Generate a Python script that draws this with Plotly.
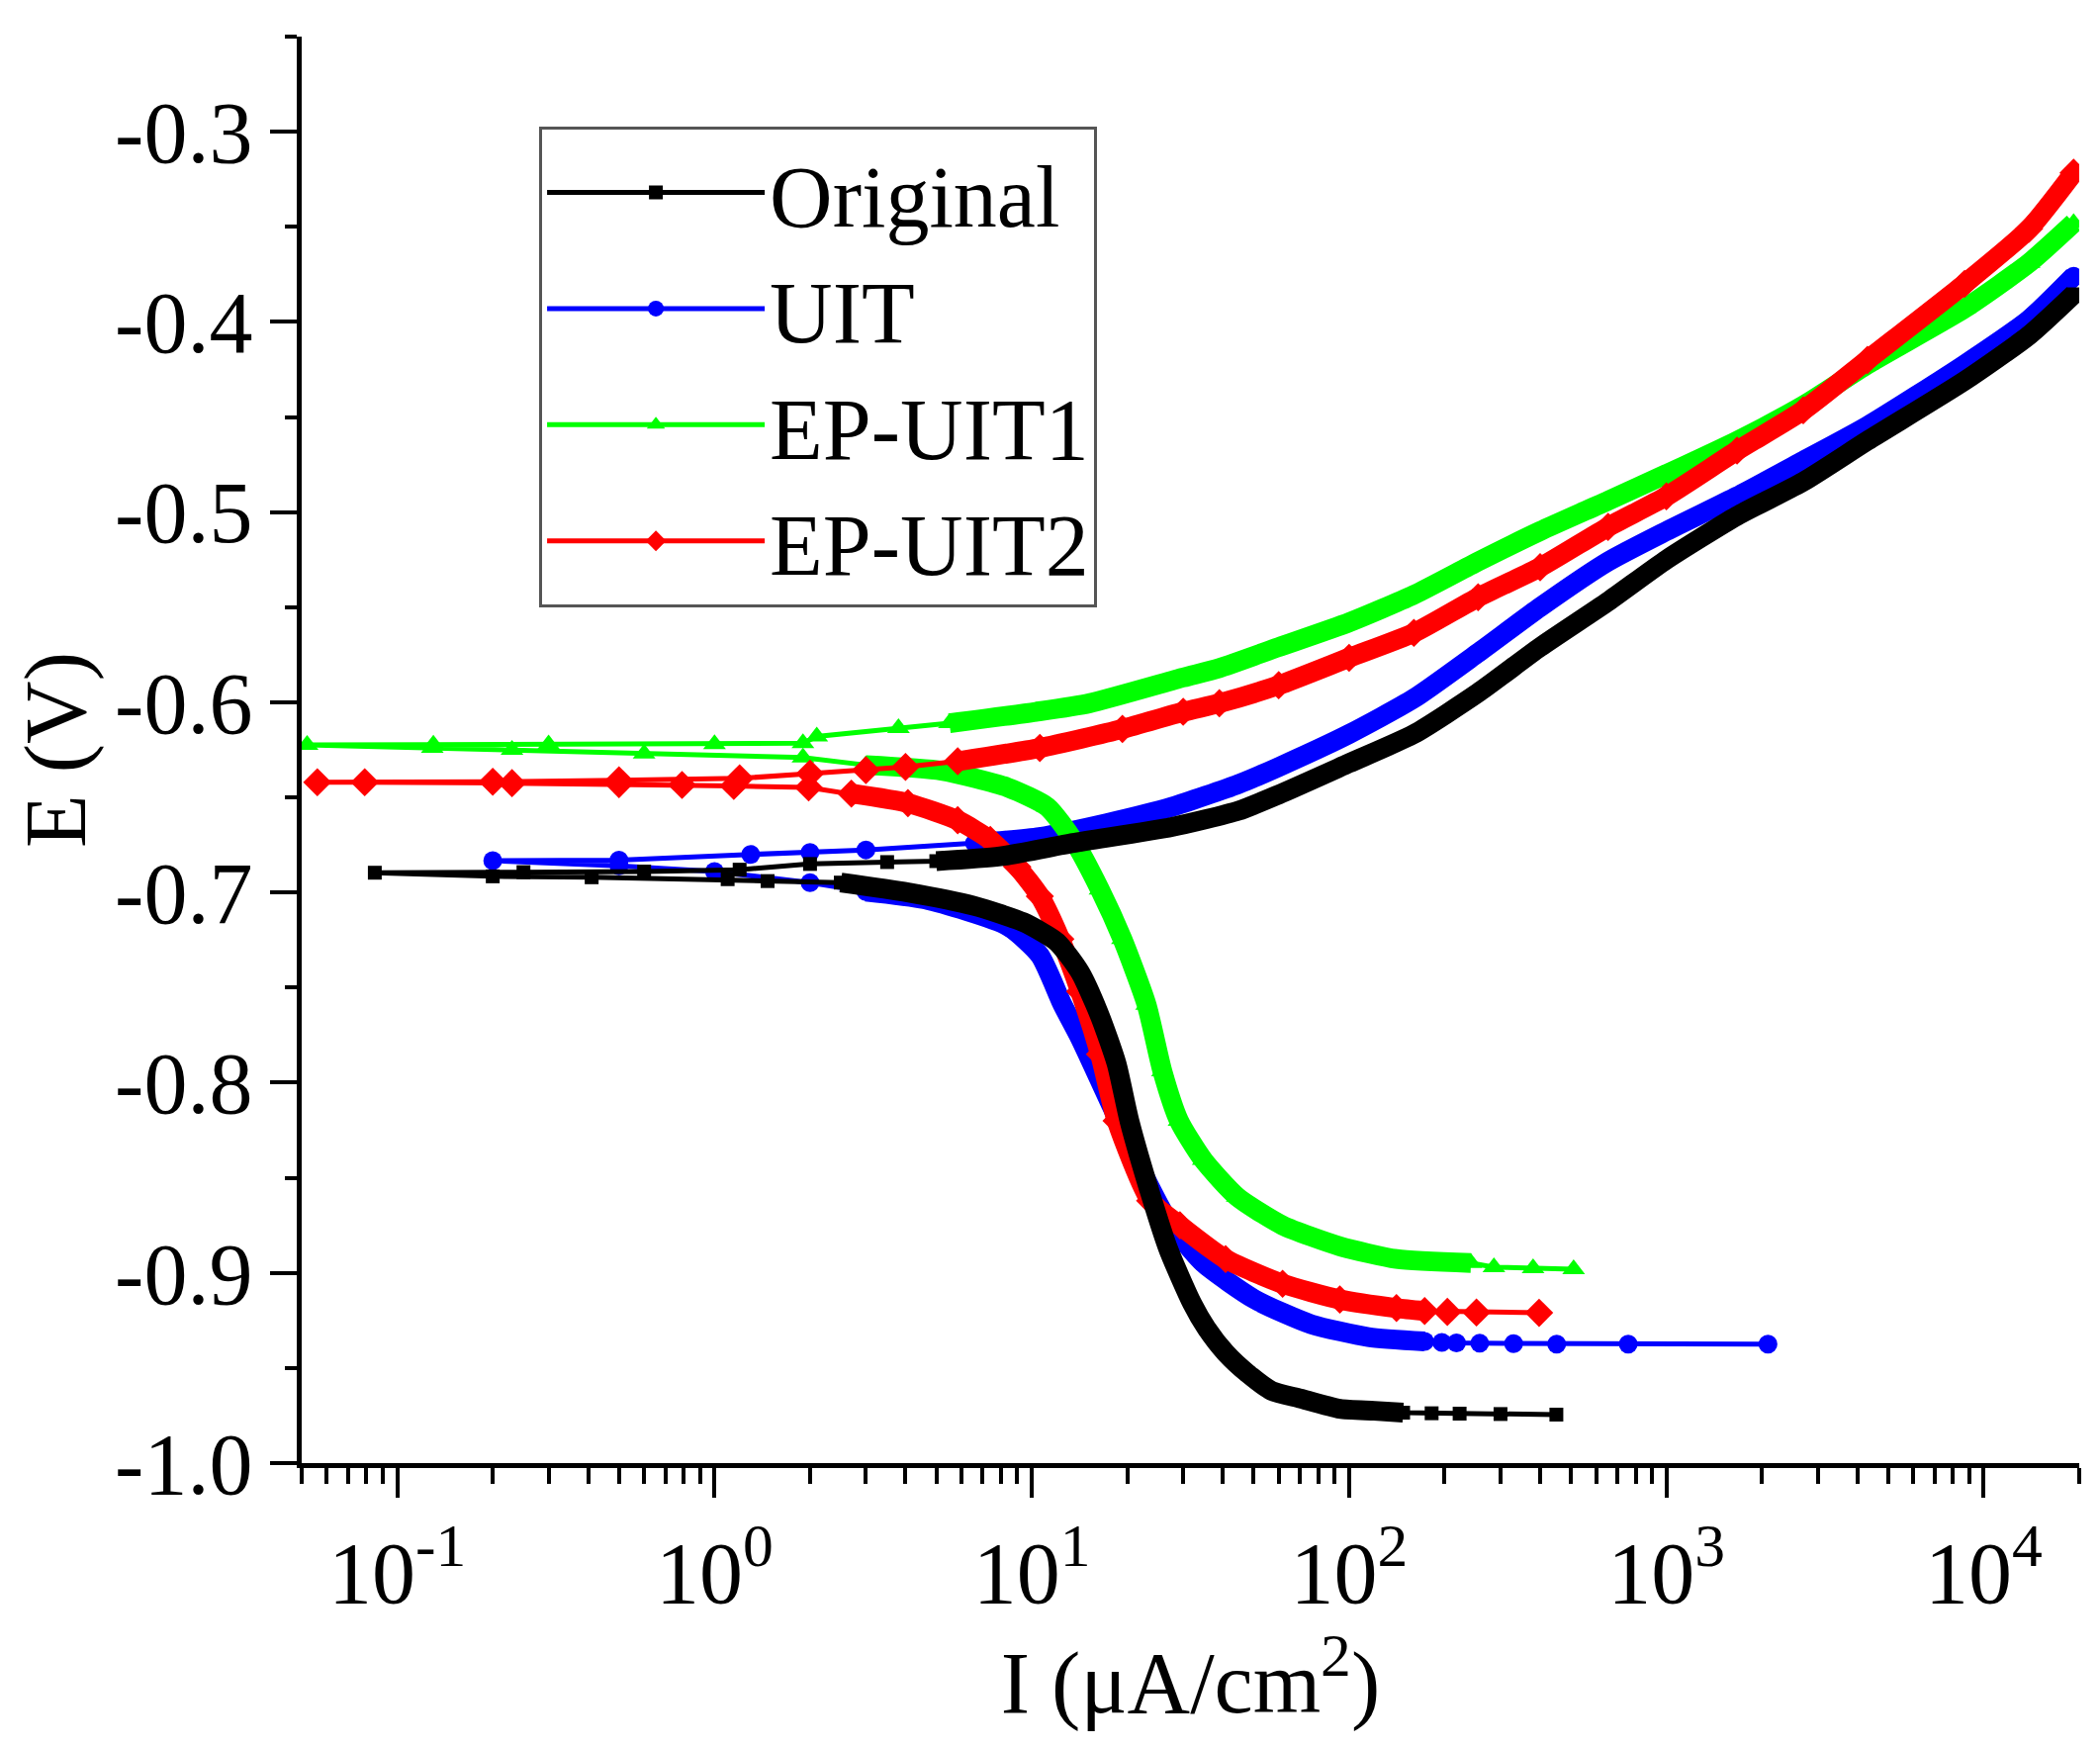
import plotly.graph_objects as go

# ---- data (I in uA/cm2, E in V) ----
# each curve: cathodic branch (sweep start -> Ecorr), then anodic branch (Ecorr -> end)

orig_cat_I = [450, 300, 223, 182, 148, 120, 93.5, 70, 57, 48, 40.8, 35.5, 32, 27, 23.8, 20.3, 18.5, 16.4,
              14.2, 12, 9.4, 6.56, 4.07, 2.5, 1.47, 1.1, 0.41, 0.2, 0.085]
orig_cat_E = [-0.9745, -0.9742, -0.974, -0.9738, -0.9735, -0.9725, -0.9715, -0.966, -0.962, -0.953, -0.942,
              -0.929, -0.916, -0.888, -0.860, -0.82, -0.79, -0.765, -0.742, -0.726, -0.7156, -0.707,
              -0.700, -0.6948, -0.694, -0.693, -0.692, -0.6915, -0.6896]
orig_an_I = [0.25, 0.6, 1.2, 2.0, 3.5, 5.0, 7.95, 13.5, 27.6, 44.8, 60, 100, 160, 255, 400, 655, 1000,
             1670, 2700, 4300, 8700, 13900, 19200]
orig_an_E = [-0.6893, -0.689, -0.688, -0.685, -0.684, -0.6835, -0.681, -0.674, -0.6656, -0.657, -0.6485,
             -0.632, -0.6167, -0.595, -0.571, -0.547, -0.525, -0.502, -0.484, -0.4625, -0.431, -0.407,
             -0.3855]

uit_cat_I = [2090, 758, 451, 330, 258, 218, 196, 173, 115, 76, 50.5, 34.7, 27, 22, 17.9, 14.2, 12.5,
             10.6, 8.4, 4.6, 3.0, 2.0, 1.0, 0.5, 0.2]
uit_cat_E = [-0.9375, -0.9375, -0.9375, -0.9372, -0.937, -0.9368, -0.9365, -0.936, -0.9337, -0.927,
             -0.914, -0.8948, -0.873, -0.845, -0.8128, -0.7766, -0.759, -0.733, -0.7177, -0.7036,
             -0.6995, -0.6948, -0.689, -0.686, -0.6833]
uit_an_I = [0.5, 1.3, 2.0, 3.0, 6.6, 10.6, 17.2, 27.6, 44.8, 60, 100, 160, 255, 400, 655, 1000, 1670,
            2700, 4300, 8700, 13900, 19200]
uit_an_E = [-0.683, -0.680, -0.679, -0.6776, -0.674, -0.6708, -0.6636, -0.655, -0.643, -0.634, -0.6167,
            -0.598, -0.574, -0.55, -0.526, -0.510, -0.4917, -0.473, -0.4547, -0.4224, -0.3987, -0.376]

ep1_cat_I = [510, 380, 286, 242, 141, 93.5, 61.7, 44.4, 34.7, 29.1, 25.8, 23, 19.3, 16.4, 13.5, 11.2,
             8.4, 5.2, 3.0, 1.9, 0.6, 0.23, 0.129, 0.052]
ep1_cat_E = [-0.898, -0.8975, -0.897, -0.8948, -0.8927, -0.886, -0.875, -0.860, -0.8406, -0.82, -0.794,
             -0.759, -0.7245, -0.6985, -0.6724, -0.655, -0.6448, -0.636, -0.633, -0.629, -0.627, -0.625,
             -0.624, -0.6224]
ep1_an_I = [0.13, 0.3, 1.0, 1.9, 2.1, 3.8, 5.5, 10.3, 15.2, 30, 39, 60, 100, 160, 255, 400, 655, 1000,
            1670, 2700, 4300, 8700, 13900, 19200]
ep1_an_E = [-0.6223, -0.6222, -0.622, -0.6215, -0.618, -0.6135, -0.611, -0.605, -0.6005, -0.587, -0.582,
            -0.571, -0.558, -0.5435, -0.526, -0.51, -0.494, -0.480, -0.4625, -0.444, -0.4224, -0.393,
            -0.369, -0.348]

ep2_cat_I = [397, 252, 204, 173, 141, 93.5, 61.7, 40.8, 29.3, 23.6, 18.5, 16.4, 14.2, 12.3, 10.6, 9.0,
             7.4, 5.84, 4.07, 2.7, 1.98, 1.15, 0.79, 0.5, 0.23, 0.079, 0.056]
ep2_cat_E = [-0.921, -0.9208, -0.9205, -0.92, -0.9185, -0.914, -0.9057, -0.8927, -0.875, -0.862, -0.82,
             -0.785, -0.752, -0.7245, -0.702, -0.6865, -0.6724, -0.662, -0.653, -0.648, -0.6448, -0.644,
             -0.6435, -0.643, -0.6425, -0.642, -0.642]
ep2_an_I = [0.2, 0.5, 1.2, 2.0, 3.0, 4.0, 5.84, 10.6, 19.3, 30, 39, 60, 100, 160, 255, 400, 655, 1000,
            1670, 2700, 4300, 8700, 13900, 19200]
ep2_an_E = [-0.6418, -0.641, -0.640, -0.6375, -0.6357, -0.634, -0.631, -0.624, -0.614, -0.605, -0.6005,
            -0.591, -0.5766, -0.5635, -0.5448, -0.529, -0.5078, -0.4917, -0.4677, -0.4465, -0.420, -0.380,
            -0.351, -0.3216]

e_ticks = [-1.0, -0.9, -0.8, -0.7, -0.6, -0.5, -0.4, -0.3]
i_ticks = [0.1, 1, 10, 100, 1000, 10000]
i_tick_text = ["10<sup>-1</sup>", "10<sup>0</sup>", "10<sup>1</sup>", "10<sup>2</sup>",
               "10<sup>3</sup>", "10<sup>4</sup>"]

FONT = "Liberation Serif, Times New Roman, serif"

# drawing order: blue at the bottom, black on top (as in the original figure)
curves = [
    # name, cathodic I/E, anodic I/E, colour, symbol, size, legend rank, band limits (cat lo, cat hi, an lo)
    ("UIT", uit_cat_I, uit_cat_E, uit_an_I, uit_an_E, "#0000ff", "circle", 19, 2, (3.0, 180, 6.0)),
    ("EP-UIT1", ep1_cat_I, ep1_cat_E, ep1_an_I, ep1_an_E, "#00ff00", "triangle-up", 20, 3, (3.0, 250, 5.0)),
    ("EP-UIT2", ep2_cat_I, ep2_cat_E, ep2_an_I, ep2_an_E, "#ff0000", "diamond", 22, 4, (2.5, 180, 5.0)),
    ("Original", orig_cat_I, orig_cat_E, orig_an_I, orig_an_E, "#000000", "square", 14, 1, (2.5, 150, 5.0)),
]

fig = go.Figure()

for name, ci, ce, ai, ae, col, sym, size, rank, (lo, hi, alo) in curves:
    # dense part of the sweep drawn as a thick band (overlapping markers in the original)
    bx, by = [], []
    for x, y in zip(ci, ce):
        if lo <= x <= hi:
            bx.append(x)
            by.append(y)
    bx.append(None)
    by.append(None)
    for x, y in zip(ai, ae):
        if x >= alo:
            bx.append(x)
            by.append(y)
    fig.add_trace(go.Scatter(x=bx, y=by, mode="lines",
                             line=dict(color=col, width=20, shape="spline", smoothing=0.6),
                             showlegend=False, hoverinfo="skip"))
    fig.add_trace(go.Scatter(
        x=ci + ai, y=ce + ae, name=name, mode="lines+markers",
        line=dict(color=col, width=5),
        marker=dict(symbol=sym, size=size, color=col, line=dict(width=0)),
        legendrank=rank,
    ))

minor_i = [m * 10.0 ** k for k in range(-2, 5) for m in range(2, 10)]
minor_i = [v for v in minor_i if 0.05 <= v <= 20000]
minor_e = [round(v + 0.05, 2) for v in e_ticks]

fig.update_layout(
    width=2115, height=1759,
    margin=dict(l=297, r=21, t=29, b=288),
    paper_bgcolor="white", plot_bgcolor="white",
    font=dict(family=FONT, size=88, color="black"),
    legend=dict(
        x=0.1336, y=0.937, xanchor="left", yanchor="top",
        bgcolor="white", bordercolor="#555555", borderwidth=3,
        font=dict(family=FONT, size=88, color="black"),
        tracegroupgap=0, itemwidth=220,
    ),
    xaxis=dict(
        type="log", range=[-1.30103, 4.30103],
        tickmode="array", tickvals=i_ticks, ticktext=i_tick_text,
        ticks="outside", ticklen=30, tickwidth=4, tickcolor="black",
        minor=dict(tickmode="array", tickvals=minor_i, ticks="outside", ticklen=16, tickwidth=4,
                   tickcolor="black", showgrid=False),
        showline=True, linecolor="black", linewidth=5, mirror=False,
        showgrid=False, zeroline=False,
        tickfont=dict(family=FONT, size=88, color="black"),
        title=dict(text="I (\u03bcA/cm<sup>2</sup>)", standoff=20,
                   font=dict(family=FONT, size=88, color="black")),
    ),
    yaxis=dict(
        range=[-1.0, -0.25],
        tickmode="array", tickvals=e_ticks, ticktext=[f"{v:.1f}" for v in e_ticks],
        ticks="outside", ticklen=27, tickwidth=4, tickcolor="black",
        minor=dict(tickmode="array", tickvals=minor_e, ticks="outside", ticklen=12, tickwidth=4,
                   tickcolor="black", showgrid=False),
        showline=True, linecolor="black", linewidth=5, mirror=False,
        showgrid=False, zeroline=False,
        tickfont=dict(family=FONT, size=88, color="black"),
        title=dict(text="E (V)", standoff=15,
                   font=dict(family=FONT, size=88, color="black")),
    ),
)

fig.write_html("out.html")
